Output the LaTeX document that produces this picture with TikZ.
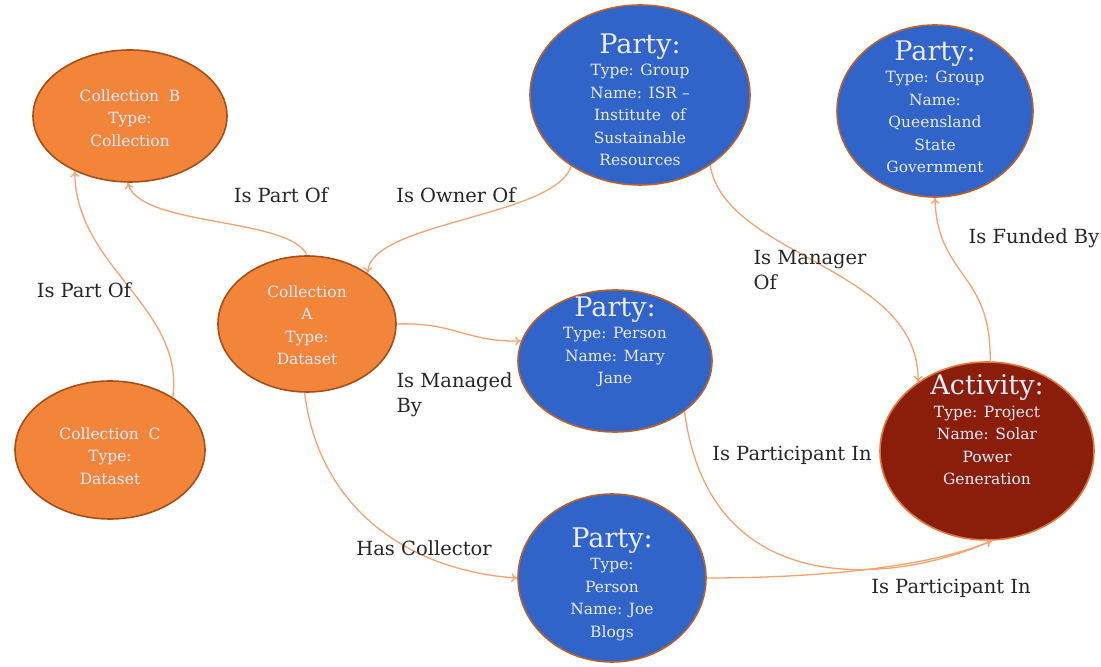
\documentclass[tikz,border=0pt]{standalone}
\usepackage{fontspec}
\setmainfont{DejaVu Serif}
\usetikzlibrary{shapes.geometric,arrows.meta}
\definecolor{orfill}{RGB}{242,133,58}
\definecolor{orline}{RGB}{168,78,22}
\definecolor{blfill}{RGB}{48,100,200}
\definecolor{blline}{RGB}{188,96,40}
\definecolor{acfill}{RGB}{138,30,10}
\definecolor{acline}{RGB}{228,118,58}
\definecolor{relline}{RGB}{244,162,112}
\definecolor{lbltext}{RGB}{38,38,38}
\newcommand{\headword}[1]{{\fontsize{27}{31}\selectfont #1}}
\begin{document}
\begin{tikzpicture}[x=1pt,y=1pt,>={To[length=6pt,width=9pt]},
	coll/.style={ellipse,draw=orline,fill=orfill,line width=1.6pt,inner sep=0pt},
	party/.style={ellipse,draw=blline,fill=blfill,line width=1.6pt,inner sep=0pt},
	activity/.style={ellipse,draw=acline,fill=acfill,line width=1.6pt,inner sep=0pt},
	txt/.style={align=center,text=white!92!blue,font=\fontsize{15.5}{22.5}\selectfont},
	rel/.style={->,draw=relline,line width=1.3pt},
	lbl/.style={align=left,text=lbltext,font=\fontsize{19.5}{25}\selectfont}]
	\useasboundingbox (0,0) rectangle (1101,667);
	% ellipses
	\node[coll,minimum width=194pt,minimum height=132pt] (colB) at (130,551) {};
	\node[coll,minimum width=178pt,minimum height=136pt] (colA) at (307,343) {};
	\node[coll,minimum width=190pt,minimum height=138pt] (colC) at (110,217) {};
	\node[party,minimum width=220pt,minimum height=180pt] (isr) at (640,572) {};
	\node[party,minimum width=196pt,minimum height=172pt] (qld) at (935,556) {};
	\node[party,minimum width=194pt,minimum height=142pt] (mary) at (615,306) {};
	\node[party,minimum width=188pt,minimum height=168pt] (joe) at (612,89) {};
	\node[activity,minimum width=214pt,minimum height=178pt] (act) at (987,216) {};
	% texts inside
	\node[txt] (colB-t) at (130,549) {Collection\ \ B\\Type:\\Collection};
	\node[txt] (colA-t) at (307,342) {Collection\\A\\Type:\\Dataset};
	\node[txt] (colC-t) at (110,211) {Collection\ \ C\\Type:\\Dataset};
	\node[txt] (isr-t) at (640,567) {\headword{Party:}\\Type: Group\\Name: ISR --\\Institute\ \ of\\Sustainable\\Resources};
	\node[txt] (qld-t) at (935,560) {\headword{Party:}\\Type: Group\\Name:\\Queensland\\State\\Government};
	\node[txt] (mary-t) at (615,325) {\headword{Party:}\\Type: Person\\Name: Mary\\Jane};
	\node[txt] (joe-t) at (612,83) {\headword{Party:}\\Type:\\Person\\Name: Joe\\Blogs};
	\node[txt] (act-t) at (987,237) {\headword{Activity:}\\Type: Project\\Name: Solar\\Power\\Generation};
	% relations
	\draw[rel] (colA.90) .. controls (290,450) and (140,440) .. (colB.268);
	\draw[rel] (colC.40) .. controls (185,360) and (75,400) .. (colB.225);
	\draw[rel] (isr.226) .. controls (555,450) and (370,445) .. (colA.40);
	\draw[rel] (colA.0) .. controls (455,345) and (465,325) .. (mary.168);
	\draw[rel] (colA.268) .. controls (320,150) and (420,95) .. (joe.180);
	\draw[rel] (isr.-45) .. controls (725,410) and (920,400) .. (act.135);
	\draw[rel] (act.88) .. controls (992,395) and (937,390) .. (qld.270);
	\draw[rel] (mary.-36) .. controls (710,60) and (900,85) .. (act.273);
	\draw[rel] (joe.0) .. controls (820,89) and (930,100) .. (act.273);
	% relation names
	\node[lbl] (l-partB) at (281,472) {Is Part Of};
	\node[lbl] (l-owner) at (456,472) {Is Owner Of};
	\node[lbl] (l-partC) at (84,377) {Is Part Of};
	\node[lbl,anchor=west] (l-managed) at (393,272) {Is Managed\\By};
	\node[lbl,anchor=west] (l-manager) at (750,397) {Is Manager\\Of};
	\node[lbl] (l-funded) at (1034,429) {Is Funded By};
	\node[lbl] (l-part1) at (792,212) {Is Participant In};
	\node[lbl] (l-collector) at (424,119) {Has Collector};
	\node[lbl] (l-part2) at (951,79) {Is Participant In};
\end{tikzpicture}
\end{document}
